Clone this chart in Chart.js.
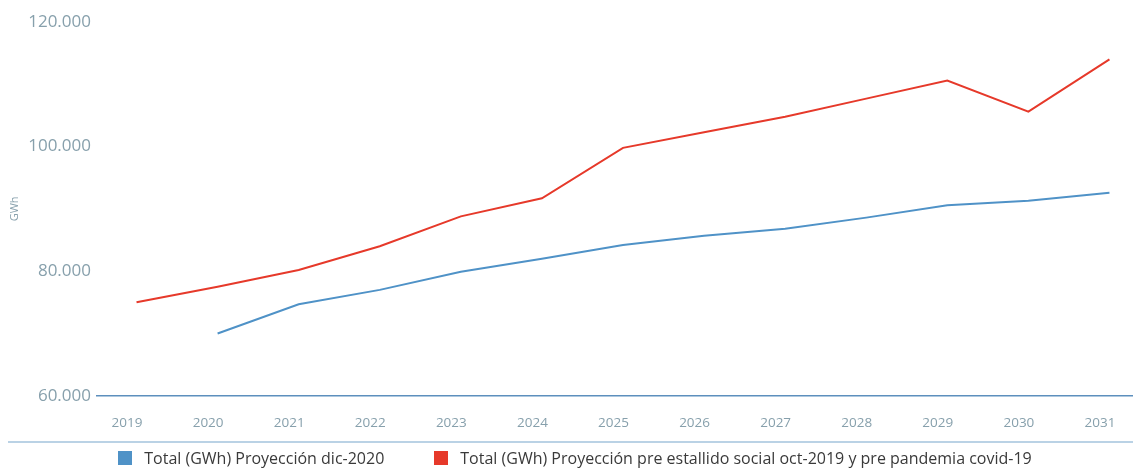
<!DOCTYPE html>
<html>
<head>
<meta charset="utf-8">
<script src="https://cdn.jsdelivr.net/npm/chart.js@4/dist/chart.umd.min.js"></script>
<style>
  html, body { margin: 0; padding: 0; background: #ffffff; overflow: hidden; }
  #wrap { position: relative; width: 1150px; height: 468px; }
  #legend {
    position: absolute; left: 0; top: 447px; width: 1150px;
    display: flex; justify-content: center; align-items: center;
    font-family: "Open Sans", "Noto Sans", sans-serif; font-size: 16px; color: #3a3a3a;
  }
  .item { display: flex; align-items: center; margin: 0 25px; white-space: nowrap; }
  .swatch { width: 14px; height: 14px; margin-right: 12px; }
</style>
</head>
<body>
<div id="wrap">
  <canvas id="c" width="1150" height="468"></canvas>
  <div id="legend"></div>
</div>
<script>
// Years of the projection
const years = ['2019', '2020', '2021', '2022', '2023', '2024', '2025', '2026', '2027', '2028', '2029', '2030', '2031'];

// Total consumption (GWh), projection of December 2020
const proyeccionDic2020 = [null, 70000, 74700, 77000, 79900, 82000, 84200, 85700, 86800, 88600, 90600, 91300, 92600];

// Total consumption (GWh), projection before the October 2019 unrest and the covid-19 pandemic
const proyeccionPre = [75000, 77500, 80200, 84000, 88800, 91700, 99800, 102300, 104800, 107700, 110600, 105600, 114000];

const seriesNames = [
  'Total (GWh) Proyección dic-2020',
  'Total (GWh) Proyección pre estallido social oct-2019 y pre pandemia covid-19'
];

// Value axis ticks
const yMin = 60000;
const yMax = 120000;
const yStep = 20000;

const tickColor = '#87a0ac';
const fontFamily = '"Open Sans", "Noto Sans", sans-serif';

function thousands(v) {
  return String(Math.round(v)).replace(/\B(?=(\d{3})+(?!\d))/g, '.');
}

// Thin rule separating the plot from the legend
const separator = {
  id: 'separator',
  afterDraw(chart) {
    const ctx = chart.ctx;
    ctx.save();
    ctx.strokeStyle = '#a3c3dc';
    ctx.lineWidth = 1.5;
    ctx.beginPath();
    ctx.moveTo(8, 442);
    ctx.lineTo(chart.width, 442);
    ctx.stroke();
    ctx.restore();
  }
};

const chart = new Chart(document.getElementById('c'), {
  type: 'line',
  data: {
    labels: years,
    datasets: [
      {
        label: seriesNames[0],
        data: proyeccionDic2020,
        borderColor: '#4f92c7',
        backgroundColor: '#4f92c7',
        borderWidth: 2,
        pointRadius: 0,
        tension: 0,
        spanGaps: false
      },
      {
        label: seriesNames[1],
        data: proyeccionPre,
        borderColor: '#e6392a',
        backgroundColor: '#e6392a',
        borderWidth: 2,
        pointRadius: 0,
        tension: 0
      }
    ]
  },
  options: {
    responsive: false,
    devicePixelRatio: 1,
    animation: false,
    layout: { padding: { top: 22, right: 0, bottom: 18, left: 0 } },
    scales: {
      x: {
        offset: true,
        grid: { display: false, drawTicks: false },
        border: { display: false },
        ticks: {
          color: tickColor,
          font: { family: fontFamily, size: 13.5 },
          padding: 19,
          labelOffset: -9.5,
          maxRotation: 0,
          autoSkip: false
        }
      },
      y: {
        min: yMin,
        max: yMax,
        grid: {
          drawTicks: false,
          color: (ctx) => ctx.tick && ctx.tick.value === yMin ? '#5d8fbd' : 'rgba(0,0,0,0)',
          lineWidth: 1.5
        },
        border: { display: false },
        ticks: {
          stepSize: yStep,
          color: tickColor,
          font: { family: fontFamily, size: 17 },
          padding: 5,
          callback: (v) => thousands(v)
        },
        title: {
          display: true,
          text: 'GWh',
          color: tickColor,
          font: { family: fontFamily, size: 11 },
          padding: { top: 8, bottom: 2 }
        }
      }
    },
    plugins: {
      legend: { display: false },
      tooltip: { enabled: false }
    }
  },
  plugins: [separator]
});

// Legend built from the datasets
const legendEl = document.getElementById('legend');
chart.data.datasets.forEach((ds) => {
  const item = document.createElement('div');
  item.className = 'item';
  const sw = document.createElement('span');
  sw.className = 'swatch';
  sw.style.background = ds.backgroundColor;
  const tx = document.createElement('span');
  tx.textContent = ds.label;
  item.appendChild(sw);
  item.appendChild(tx);
  legendEl.appendChild(item);
});
</script>
</body>
</html>
